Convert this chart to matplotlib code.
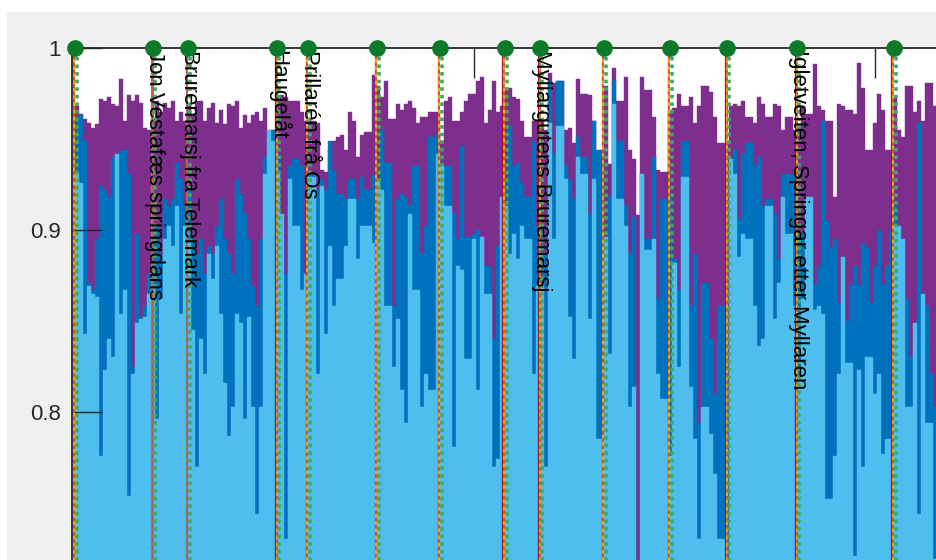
import matplotlib.pyplot as plt
from matplotlib.patches import Rectangle
from matplotlib.ticker import FuncFormatter
import numpy as np

# per-bar scores of the three overlapping series
purple = [
    .968, .964, .961, .959, .956, .958, .972, .971, .973, .969,
    .968, .983, .960, .974, .971, .974, .970, .956, .955, .961,
    .971, .965, .970, .967, .971, .960, .965, .960, .968, .964,
    .971, .971, .960, .967, .970, .959, .966, .958, .969, .968,
    .971, .956, .963, .959, .963, .965, .960, .967, .955, .955,
    .971, .974, .973, .971, .971, .971, .965, .960, .960, .960,
    .959, .933, .932, .944, .949, .951, .952, .944, .965, .960,
    .940, .952, .954, .954, .985, .979, .973, .982, .961, .961,
    .969, .966, .969, .971, .967, .959, .962, .962, .965, .965,
    .965, .949, .971, .973, .960, .960, .965, .971, .975, .975,
    .982, .984, .959, .966, .982, .965, .968, .978, .978, .973,
    .972, .960, .951, .951, .960, .960, .960, .955, .986, .981,
    .982, .982, .955, .956, .948, .983, .975, .975, .974, .960,
    .942, .942, .979, .936, .989, .971, .971, .984, .944, .939,
    .908, .984, .977, .977, .962, .933, .932, .932, .966, .967,
    .975, .968, .968, .973, .959, .968, .979, .979, .976, .962,
    .948, .948, .947, .968, .969, .968, .971, .962, .962, .959,
    .973, .969, .962, .962, .969, .968, .955, .962, .962, .955,
    .957, .968, .964, .964, .991, .968, .966, .960, .960, .918,
    .969, .968, .966, .966, .964, .992, .978, .944, .944, .959,
    .975, .966, .944, .944, .973, .955, .951, .979, .979, .965,
    .971, .960, .981, .981, .968, .984,
]
dark = [
    .962, .963, .949, .871, .867, .895, .924, .922, .918, .940,
    .902, .944, .944, .931, .825, .898, .852, .858, .876, .895,
    .902, .887, .917, .913, .917, .937, .928, .913, .922, .895,
    .887, .895, .876, .891, .887, .902, .917, .895, .887, .876,
    .928, .920, .909, .895, .869, .858, .895, .940, .953, .955,
    .942, .895, .876, .935, .939, .939, .935, .876, .931, .931,
    .922, .928, .922, .949, .933, .920, .920, .917, .928, .928,
    .917, .929, .922, .922, .930, .909, .955, .937, .937, .858,
    .917, .920, .918, .913, .935, .935, .887, .902, .951, .951,
    .953, .937, .935, .935, .909, .895, .946, .896, .896, .898,
    .900, .895, .880, .880, .840, .891, .906, .928, .957, .935,
    .937, .926, .918, .918, .949, .902, .902, .887, .982, .942,
    .982, .982, .935, .928, .917, .951, .940, .940, .909, .960,
    .944, .944, .895, .918, .982, .949, .949, .913, .887, .907,
    .715, .931, .895, .895, .940, .862, .917, .917, .920, .884,
    .867, .949, .949, .858, .887, .794, .871, .871, .840, .810,
    .858, .858, .803, .940, .944, .906, .942, .948, .948, .935,
    .940, .913, .917, .917, .909, .884, .931, .931, .931, .931,
    .898, .898, .900, .880, .870, .880, .960, .905, .890, .895,
    .860, .885, .850, .870, .880, .870, .893, .890, .860, .880,
    .900, .870, .880, .900, .913, .895, .876, .862, .830, .840,
    .959, .840, .858, .821, .803, .748,
]
light = [
    .931, .926, .843, .869, .865, .863, .776, .823, .840, .830,
    .942, .854, .867, .754, .821, .849, .851, .852, .865, .869,
    .796, .862, .895, .902, .891, .913, .854, .902, .893, .845,
    .770, .840, .821, .887, .873, .891, .854, .816, .787, .803,
    .854, .849, .796, .852, .803, .744, .803, .931, .955, .949,
    .931, .909, .730, .928, .902, .902, .867, .876, .929, .929,
    .821, .924, .843, .891, .858, .873, .873, .891, .917, .917,
    .884, .902, .902, .902, .893, .928, .922, .858, .858, .825,
    .851, .812, .794, .909, .867, .867, .803, .821, .812, .812,
    .942, .935, .913, .913, .781, .880, .878, .829, .829, .895,
    .812, .896, .865, .865, .770, .774, .918, .913, .887, .898,
    .884, .902, .895, .895, .821, .869, .869, .770, .959, .895,
    .957, .957, .928, .852, .829, .940, .931, .931, .851, .928,
    .785, .785, .896, .832, .969, .917, .917, .902, .803, .814,
    .715, .931, .889, .889, .895, .821, .807, .807, .776, .882,
    .825, .929, .929, .814, .785, .730, .803, .803, .788, .766,
    .730, .730, .719, .939, .931, .885, .898, .895, .895, .858,
    .836, .840, .913, .913, .851, .871, .918, .898, .898, .858,
    .818, .862, .918, .918, .856, .858, .854, .752, .752, .776,
    .821, .885, .827, .827, .721, .823, .770, .830, .830, .810,
    .821, .777, .785, .785, .902, .902, .895, .803, .803, .849,
    .744, .865, .794, .794, .719, .748,
]

# tune boundaries and the tunes that are named
onsets = [0.5, 20, 28.7, 50.9, 58.6, 75.8, 91.5, 107.7, 116.5, 132.4, 148.9, 163.2, 180.6, 204.7]
tune_pos = [20, 28.7, 50.9, 58.6, 116.5, 180.6]
tune_names = ["Jon Vestafæs springdans", "Bruremarsj fra Telemark", "Haugelåt",
              "Prillarén frå Os", "Myllargutens Bruremarsj",
              "Igletveiten, Springar etter Myllaren"]

W, H = 937, 560
fig = plt.figure(figsize=(W / 100, H / 100), dpi=100, facecolor='white')
fig.patches.append(Rectangle((7 / W, 0), 1, 1 - 12 / H, transform=fig.transFigure,
                             facecolor='#f0f0f0', edgecolor='none', zorder=-10))

# axes runs past the right and bottom edge of the picture (cropped view)
ax = fig.add_axes([72 / W, 1 - 594 / H, 300.25 * 4.01 / W, 546 / H])
ax.set_facecolor('white')

for vals, col in [(purple, '#7E2F8E'), (dark, '#0072BD'), (light, '#4DBEEE')]:
    x = np.arange(1, len(vals) + 1)
    ax.bar(x, vals, width=1.0, color=col, edgecolor=col, linewidth=0.3, zorder=1)

solid_cols = ['#A2142F'] * len(onsets)
dash_cols = ['#EDB120'] * len(onsets)
solid_cols[1] = solid_cols[2] = '#8a7a8a'
dash_cols[1] = dash_cols[2] = '#8e6f8e'
for p, sc, dc in zip(onsets, solid_cols, dash_cols):
    ax.axvline(p - 0.6, color=sc, lw=0.9, zorder=3)
    ax.axvline(p - 0.15, color='#D95319', lw=1.3, zorder=3)
    ax.axvline(p - 0.15, color=dc, lw=1.3, ls=(0, (2, 2)), zorder=3)
    ax.axvline(p + 0.45, color='#45a862', lw=2.6, ls=(0, (1, 1.1)), zorder=3)
    ax.plot(p, 1.0, 'o', ms=11, color='#0c7a2b', clip_on=False, zorder=6)

for p, name in zip(tune_pos, tune_names):
    ax.text(p + 0.3, 0.999, name, rotation=-90, ha='center', va='top',
            fontsize=16, family='Liberation Sans', color='black', zorder=5)

ax.set_xlim(-0.25, 300)
ax.set_ylim(0.7, 1.0)
ax.set_xticks([0, 100, 200, 300])
ax.set_yticks([0.8, 0.9, 1.0])
ax.yaxis.set_major_formatter(FuncFormatter(lambda v, p: f'{v:g}'))
ax.tick_params(axis='both', direction='in', length=21.6, width=1.0, color='#262626',
               top=True, right=True, labelsize=16, labelcolor='#262626', pad=8.0)
ax.tick_params(axis='x', labelbottom=False)
for lab in ax.get_yticklabels():
    lab.set_family('Liberation Sans')
for s in ax.spines.values():
    s.set_color('#262626')
    s.set_linewidth(1.3)

fig.savefig('out.png', dpi=100, facecolor='white')
